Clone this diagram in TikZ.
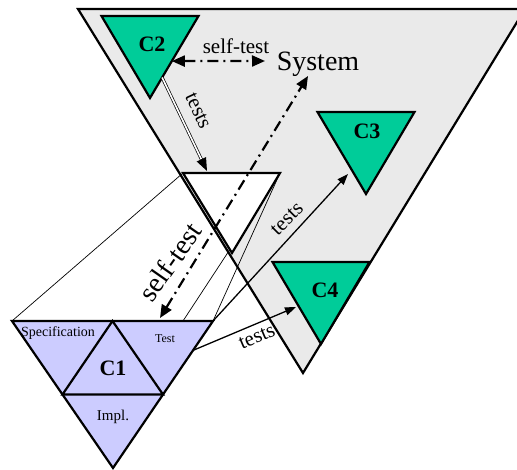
\documentclass[tikz,border=0pt]{standalone}
\usepackage{fontspec}
\setmainfont{Liberation Serif}
\usetikzlibrary{arrows.meta, calc}

\definecolor{compgreen}{RGB}{0,204,153}
\definecolor{unitblue}{RGB}{204,204,255}
\definecolor{sysgray}{RGB}{234,234,234}

\begin{document}
\begin{tikzpicture}[
  x=1pt, y=-1pt,
  % --- shapes ---
  sysarea/.style={draw, line width=2.2pt, fill=sysgray, line join=miter},
  comp/.style={draw, line width=2.2pt, fill=compgreen, line join=miter},
  unit/.style={draw, line width=2.2pt, fill=unitblue, line join=miter},
  copytri/.style={draw, line width=2.2pt, fill=white, line join=miter},
  proj/.style={line width=0.7pt},
  % --- labels ---
  cname/.style={font=\fontsize{22}{22}\selectfont\bfseries, inner sep=0pt},
  part/.style={font=\fontsize{14}{14}\selectfont, inner sep=0pt},
  lbl/.style={font=\fontsize{21}{21}\selectfont, inner sep=0pt},
  big/.style={font=\fontsize{28}{28}\selectfont, inner sep=0pt},
  % --- connectors ---
  testarr/.style={-{Triangle[length=11pt,width=8pt]}, line width=1.3pt},
  dbl/.style={double, line width=0.7pt, double distance=1.6pt},
  selfarr/.style={{Triangle[length=13pt,width=11pt]}-{Triangle[length=13pt,width=11pt]},
    line width=2.2pt, dash pattern=on 11pt off 5pt on 2pt off 5pt},
]

\useasboundingbox (0,0) rectangle (517,470);

% ══════════════════════════════════════════════
% SYSTEM (grey, runs off the right edge)
% ══════════════════════════════════════════════

\coordinate (s-l) at (78,9);
\coordinate (s-r) at (525,9);
\coordinate (s-b) at (303,373);
\begin{scope}
  \clip (0,0) rectangle (517,470);
  \draw[sysarea] (s-l) -- (s-r) -- (s-b) -- cycle;
\end{scope}

% ══════════════════════════════════════════════
% C1 AND ITS COPY INSIDE THE SYSTEM
% ══════════════════════════════════════════════

\coordinate (c1-l) at (12,321);
\coordinate (c1-r) at (213,321);
\coordinate (c1-b) at (113,468);
\coordinate (c1-p) at (183,321);

\coordinate (w-l) at (183,173);
\coordinate (w-r) at (280,173);
\coordinate (w-b) at (232,253);

\draw[proj] (c1-l) -- (w-l);
\draw[proj] (c1-p) -- (w-r);
\draw[proj] (c1-r) -- (w-r);

\draw[copytri] (w-l) -- (w-r) -- (w-b) -- cycle;

\draw[unit] (c1-l) -- (c1-r) -- (c1-b) -- cycle;
\draw[unit] ($(c1-l)!0.5!(c1-r)$) -- ($(c1-r)!0.5!(c1-b)$)
  -- ($(c1-l)!0.5!(c1-b)$) -- cycle;

\node[cname] (c1) at (113,368) {C1};
\node[part] (spec) at (58,333) {Specification};
\node[part, font=\fontsize{12}{12}\selectfont] (test) at (165,339) {Test};
\node[part, font=\fontsize{15}{15}\selectfont] (impl) at (113,417) {Impl.};

% ══════════════════════════════════════════════
% OTHER COMPONENTS
% ══════════════════════════════════════════════

\foreach \n/\x/\y in {c2/150/16, c3/366/112, c4/321/262} {
  \coordinate (\n-l) at (\x-48.5,\y);
  \coordinate (\n-r) at (\x+48.5,\y);
  \coordinate (\n-b) at (\x,\y+82);
  \draw[comp] (\n-l) -- (\n-r) -- (\n-b) -- cycle;
}

\node[cname] (c2) at (152,44) {C2};
\node[cname] (c3) at (367,131) {C3};
\node[cname] (c4) at (325,290) {C4};

\node[big] (sys) at (318,64) {System};

% ══════════════════════════════════════════════
% SELF-TESTS
% ══════════════════════════════════════════════

\coordinate (c2-st) at ($(c2-r)!0.55!(c2-b)$);
\coordinate (sys-in) at (265,61);
\draw[selfarr] (c2-st) -- (sys-in);
\node[lbl] (st2) at (236,46) {self-test};

\coordinate (c1-st) at (160,318);
\coordinate (sys-st) at (308,76);
\draw[selfarr] (c1-st) -- (sys-st);
\node[big, rotate=55] (st1) at (170,262) {self-test};

% ══════════════════════════════════════════════
% TESTS
% ══════════════════════════════════════════════

% double shaft, solid head
\coordinate (c2-t) at ($(c2-r)!0.75!(c2-b)$);
\coordinate (w-in) at (207,171);
\coordinate (w-neck) at ($(w-in)!10pt!(c2-t)$);
\draw[dbl] (c2-t) -- (w-neck);
\draw[testarr, -{Triangle[length=13pt,width=10pt]}] ($(w-in)!11pt!(c2-t)$) -- (w-in);
\node[lbl, rotate=-65] (t2) at (198,111) {tests};

\coordinate (c3-in) at (348,174);
\draw[testarr] (c1-r) -- (c3-in);
\node[lbl, rotate=45] (t3) at (287,219) {tests};

\coordinate (c1-q) at ($(c1-r)!0.2!(c1-b)$);
\coordinate (c4-in) at (296,307);
\draw[testarr] (c1-q) -- (c4-in);
\node[lbl, rotate=23] (t4) at (257,337) {tests};

\end{tikzpicture}
\end{document}
